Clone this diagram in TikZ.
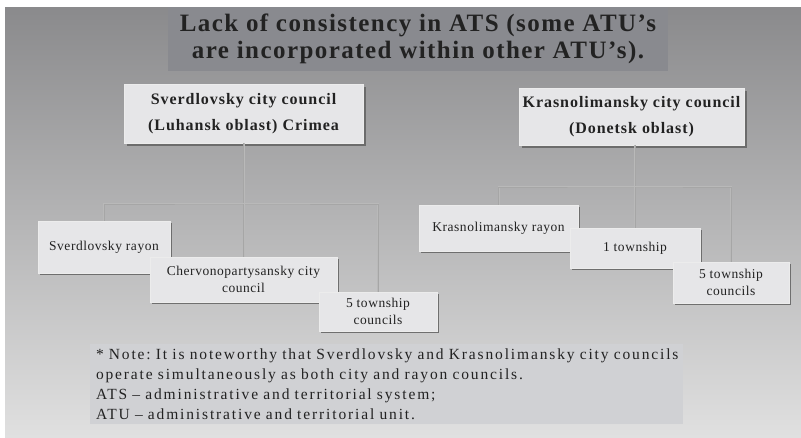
\documentclass[tikz,border=0pt]{standalone}
\usepackage{fontspec}
\setmainfont{Liberation Serif}
\newfontfamily\titlefont[LetterSpace=5.8]{Liberation Serif}
\newfontfamily\headfont[LetterSpace=6]{Liberation Serif}
\newfontfamily\unitfont[LetterSpace=4]{Liberation Serif}
\newfontfamily\notefont[LetterSpace=12]{Liberation Serif}
\usetikzlibrary{positioning,shadows}
\definecolor{BgTop}{RGB}{138,138,140}
\definecolor{BgBot}{RGB}{224,224,224}
\definecolor{TitleGray}{RGB}{137,138,143}
\definecolor{BoxFill}{RGB}{230,230,232}
\definecolor{NoteFill}{RGB}{208,209,212}
\definecolor{InkGray}{RGB}{34,34,34}
\tikzset{
  ttl/.style={rectangle, fill=TitleGray, inner sep=0pt, align=center, text=InkGray,
    font=\titlefont\fontsize{25}{27}\selectfont\bfseries},
  head/.style={rectangle, fill=BoxFill, draw=white!85!gray, line width=0.6pt, inner sep=0pt,
    align=center, text=InkGray, font=\headfont\fontsize{16}{26}\selectfont\bfseries,
    drop shadow={shadow xshift=2.5pt, shadow yshift=-2.5pt, fill=black!60, opacity=0.9}},
  unit/.style={rectangle, fill=BoxFill, draw=white!85!gray, line width=0.6pt, inner sep=0pt,
    align=center, text=InkGray, font=\unitfont\fontsize{13.5}{16.5}\selectfont,
    drop shadow={shadow xshift=2pt, shadow yshift=-2pt, fill=black!60, opacity=0.9}},
  note/.style={rectangle, fill=NoteFill, inner xsep=6pt, align=left, text=InkGray,
    font=\notefont\fontsize{15.5}{20}\selectfont\frenchspacing},
  link/.style={draw=gray!70, line width=0.9pt, preaction={draw=white!45!gray, line width=2pt}}
}

\begin{document}
\begin{tikzpicture}[x=1pt,y=-1pt]
  \fill[white] (0,0) rectangle (801,437);
  \shade[top color=BgTop, bottom color=BgBot] (5,7) rectangle (801,437);
  \node[ttl, minimum width=500pt, minimum height=64pt] (title) at (418,39)
    {Lack of consistency in ATS (some ATU’s\\are incorporated within other ATU’s).};
  % left tree
  \node[head, minimum width=239pt, minimum height=59pt] (sverd) at (243.5,113.5)
    {Sverdlovsky city council\\(Luhansk oblast) Crimea};
  \node[unit, minimum width=132pt, minimum height=52pt] (sRay) at (104,247) {Sverdlovsky rayon};
  \node[unit, minimum width=187pt, minimum height=45pt] (sCherv) at (243.5,279.5)
    {Chervonopartysansky city\\council};
  \node[unit, minimum width=118pt, minimum height=39pt] (sTown) at (378,311.5)
    {5 township\\councils};
  % right tree
  \node[head, minimum width=225pt, minimum height=57pt] (kras) at (631.5,116.5)
    {Krasnolimansky city council\\(Donetsk oblast)};
  \node[unit, minimum width=159pt, minimum height=46pt] (kRay) at (498.5,228) {Krasnolimansky rayon};
  \node[unit, minimum width=130pt, minimum height=40pt] (kTown) at (635,248) {1 township};
  \node[unit, minimum width=116pt, minimum height=41pt] (kCouncils) at (731,282.5)
    {5 township\\councils};
  % connectors
  \coordinate (sj) at (sverd.south |- 0,204);
  \draw[link] (sverd.south) -- (sj);
  \draw[link] (sRay.north) |- (sj) -| (sTown.north);
  \draw[link] (sj) -- (sCherv.north);
  \coordinate (kj) at (kTown.north |- 0,187);
  \draw[link] (kTown.north |- kras.south) -- (kj);
  \draw[link] (kRay.north) |- (kj) -| (kCouncils.north);
  \draw[link] (kj) -- (kTown.north);
  % note
  \node[note, minimum width=593pt, minimum height=80pt, text width=581pt] (remark) at (386.5,384)
    {* Note: It is noteworthy that Sverdlovsky and Krasnolimansky city councils\\
     operate simultaneously as both city and rayon councils.\\
     ATS – administrative and territorial system;\\
     ATU – administrative and territorial unit.};
\end{tikzpicture}
\end{document}
